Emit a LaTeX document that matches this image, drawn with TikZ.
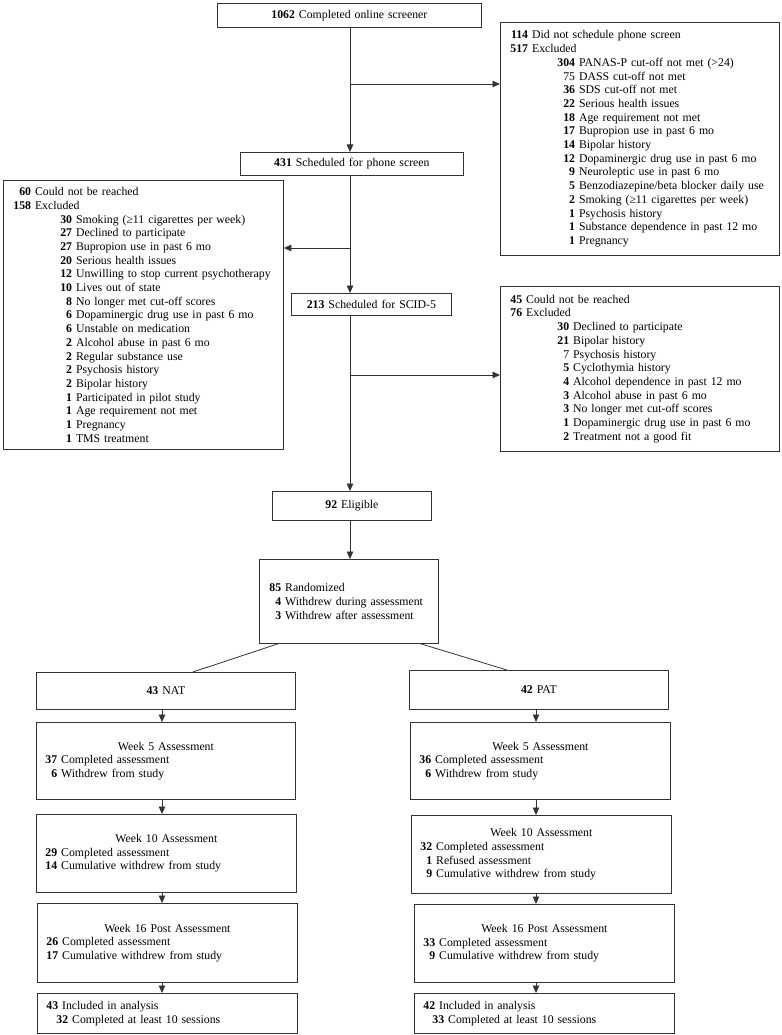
\documentclass[tikz,border=0pt]{standalone}
\usepackage{fontspec}
\setmainfont{Liberation Serif}
\usetikzlibrary{arrows.meta}

% right-aligned count in front of a line
\newcommand{\cnt}[3][\bfseries]{\makebox[#2][r]{#1#3}\ }

\tikzset{
    box/.style={draw=black!80, line width=0.8pt, anchor=north west, inner xsep=10pt, inner ysep=0pt,
        align=left, font=\fontsize{11.8}{13.7}\selectfont},
    cbox/.style={box, align=center},
    wbox/.style={box, inner xsep=9pt},
    arr/.style={draw=black!80, line width=0.8pt, -{Triangle[length=7.5pt,width=6.5pt]}},
    link/.style={draw=black!80, line width=0.8pt}
}

\begin{document}
\begin{tikzpicture}[x=1pt,y=-1pt]
    \useasboundingbox (0,0) rectangle (781,1035);

    % screening
    \node[cbox, text width=244pt, minimum height=24pt] (screen) at (217,3) {\textbf{1062} Completed online screener};
    \node[cbox, text width=203pt, minimum height=23pt] (phone) at (240,152) {\textbf{431} Scheduled for phone screen};
    \node[cbox, text width=140pt, minimum height=22pt] (scid) at (291,293) {\textbf{213} Scheduled for SCID-5};
    \node[cbox, text width=139pt, minimum height=29pt] (elig) at (272,491) {\textbf{92} Eligible};

    \node[box, text width=259pt, minimum height=233pt] (excl1) at (500,22) {%
        \cnt{1.5em}{114}Did not schedule phone screen\\
        \cnt{1.5em}{517}Excluded\\
        \hspace*{47pt}\cnt{1.5em}{304}PANAS-P cut-off not met (>24)\\
        \hspace*{47pt}\cnt[\mdseries]{1.5em}{75}DASS cut-off not met\\
        \hspace*{47pt}\cnt{1.5em}{36}SDS cut-off not met\\
        \hspace*{47pt}\cnt{1.5em}{22}Serious health issues\\
        \hspace*{47pt}\cnt{1.5em}{18}Age requirement not met\\
        \hspace*{47pt}\cnt{1.5em}{17}Bupropion use in past 6 mo\\
        \hspace*{47pt}\cnt{1.5em}{14}Bipolar history\\
        \hspace*{47pt}\cnt{1.5em}{12}Dopaminergic drug use in past 6 mo\\
        \hspace*{47pt}\cnt{1.5em}{9}Neuroleptic use in past 6 mo\\
        \hspace*{47pt}\cnt{1.5em}{5}Benzodiazepine/beta blocker daily use\\
        \hspace*{47pt}\cnt{1.5em}{2}Smoking (≥11 cigarettes per week)\\
        \hspace*{47pt}\cnt{1.5em}{1}Psychosis history\\
        \hspace*{47pt}\cnt{1.5em}{1}Substance dependence in past 12 mo\\
        \hspace*{47pt}\cnt{1.5em}{1}Pregnancy};

    \node[box, text width=260pt, minimum height=269pt] (excl2) at (3,180) {%
        \cnt{1.5em}{60}Could not be reached\\
        \cnt{1.5em}{158}Excluded\\
        \hspace*{41pt}\cnt{1.5em}{30}Smoking (≥11 cigarettes per week)\\
        \hspace*{41pt}\cnt{1.5em}{27}Declined to participate\\
        \hspace*{41pt}\cnt{1.5em}{27}Bupropion use in past 6 mo\\
        \hspace*{41pt}\cnt{1.5em}{20}Serious health issues\\
        \hspace*{41pt}\cnt{1.5em}{12}Unwilling to stop current psychotherapy\\
        \hspace*{41pt}\cnt{1.5em}{10}Lives out of state\\
        \hspace*{41pt}\cnt{1.5em}{8}No longer met cut-off scores\\
        \hspace*{41pt}\cnt{1.5em}{6}Dopaminergic drug use in past 6 mo\\
        \hspace*{41pt}\cnt{1.5em}{6}Unstable on medication\\
        \hspace*{41pt}\cnt{1.5em}{2}Alcohol abuse in past 6 mo\\
        \hspace*{41pt}\cnt{1.5em}{2}Regular substance use\\
        \hspace*{41pt}\cnt{1.5em}{2}Psychosis history\\
        \hspace*{41pt}\cnt{1.5em}{2}Bipolar history\\
        \hspace*{41pt}\cnt{1.5em}{1}Participated in pilot study\\
        \hspace*{41pt}\cnt{1.5em}{1}Age requirement not met\\
        \hspace*{41pt}\cnt{1.5em}{1}Pregnancy\\
        \hspace*{41pt}\cnt{1.5em}{1}TMS treatment};

    \node[box, text width=259pt, minimum height=165pt] (excl3) at (500,286) {%
        \cnt{1em}{45}Could not be reached\\
        \cnt{1em}{76}Excluded\\
        \hspace*{47pt}\cnt{1em}{30}Declined to participate\\
        \hspace*{47pt}\cnt{1em}{21}Bipolar history\\
        \hspace*{47pt}\cnt[\mdseries]{1em}{7}Psychosis history\\
        \hspace*{47pt}\cnt{1em}{5}Cyclothymia history\\
        \hspace*{47pt}\cnt{1em}{4}Alcohol dependence in past 12 mo\\
        \hspace*{47pt}\cnt{1em}{3}Alcohol abuse in past 6 mo\\
        \hspace*{47pt}\cnt{1em}{3}No longer met cut-off scores\\
        \hspace*{47pt}\cnt{1em}{1}Dopaminergic drug use in past 6 mo\\
        \hspace*{47pt}\cnt{1em}{2}Treatment not a good fit};

    % randomisation
    \node[box, text width=159pt, minimum height=84pt] (rand) at (259,559) {%
        \cnt{1em}{85}Randomized\\
        \cnt{1em}{4}Withdrew during assessment\\
        \cnt{1em}{3}Withdrew after assessment};
    \node[cbox, text width=239pt, minimum height=37pt] (nat) at (36,672) {\textbf{43} NAT};
    \node[cbox, text width=239pt, minimum height=39pt] (pat) at (409,670) {\textbf{42} PAT};

    % NAT arm
    \node[wbox, text width=241pt, minimum height=77pt] (n5) at (36,722) {%
        \makebox[\linewidth]{Week 5 Assessment}\\
        \cnt{1em}{37}Completed assessment\\
        \cnt{1em}{6}Withdrew from study};
    \node[wbox, text width=242pt, minimum height=78pt] (n10) at (36,814) {%
        \makebox[\linewidth]{Week 10 Assessment}\\
        \cnt{1em}{29}Completed assessment\\
        \cnt{1em}{14}Cumulative withdrew from study};
    \node[wbox, text width=242pt, minimum height=79pt] (n16) at (37,903) {%
        \makebox[\linewidth]{Week 16 Post Assessment}\\
        \cnt{1em}{26}Completed assessment\\
        \cnt{1em}{17}Cumulative withdrew from study};
    \node[wbox, text width=242pt, minimum height=40pt] (ninc) at (37,993) {%
        \cnt{1em}{43}Included in analysis\\
        \hspace*{10pt}\cnt{1em}{32}Completed at least 10 sessions};

    % PAT arm
    \node[wbox, text width=242pt, minimum height=77pt] (p5) at (410,722) {%
        \makebox[\linewidth]{Week 5 Assessment}\\
        \cnt{1em}{36}Completed assessment\\
        \cnt{1em}{6}Withdrew from study};
    \node[wbox, text width=242pt, minimum height=78pt] (p10) at (411,815) {%
        \makebox[\linewidth]{Week 10 Assessment}\\
        \cnt{1em}{32}Completed assessment\\
        \cnt{1em}{1}Refused assessment\\
        \cnt{1em}{9}Cumulative withdrew from study};
    \node[wbox, text width=242pt, minimum height=78pt] (p16) at (414,904) {%
        \makebox[\linewidth]{Week 16 Post Assessment}\\
        \cnt{1em}{33}Completed assessment\\
        \cnt{1em}{9}Cumulative withdrew from study};
    \node[wbox, text width=242pt, minimum height=40pt] (pinc) at (414,993) {%
        \cnt{1em}{42}Included in analysis\\
        \hspace*{9pt}\cnt{1em}{33}Completed at least 10 sessions};

    % main line and exclusions
    \coordinate (mx) at (350,0);
    \coordinate (b1) at (350,84);
    \coordinate (b2) at (350,248);
    \coordinate (b3) at (350,375);
    \draw[arr] (mx |- screen.south) -- (mx |- phone.north);
    \draw[arr] (mx |- phone.south) -- (mx |- scid.north);
    \draw[arr] (mx |- scid.south) -- (mx |- elig.north);
    \draw[arr] (mx |- elig.south) -- (mx |- rand.north);
    \draw[arr] (b1) -- (b1 -| excl1.west);
    \draw[arr] (b2) -- (b2 -| excl2.east);
    \draw[arr] (b3) -- (b3 -| excl3.west);

    \draw[link] ([xshift=19pt]rand.south west) -- ([xshift=27pt]nat.north);
    \draw[link] ([xshift=-18pt]rand.south east) -- ([xshift=-32pt]pat.north);

    % arms
    \coordinate (nx) at (162,0);
    \coordinate (px) at (536,0);
    \foreach \a/\b in {nat/n5, n5/n10, n10/n16, n16/ninc}
        \draw[arr] (nx |- \a.south) -- (nx |- \b.north);
    \foreach \a/\b in {pat/p5, p5/p10, p10/p16, p16/pinc}
        \draw[arr] (px |- \a.south) -- (px |- \b.north);

\end{tikzpicture}
\end{document}
